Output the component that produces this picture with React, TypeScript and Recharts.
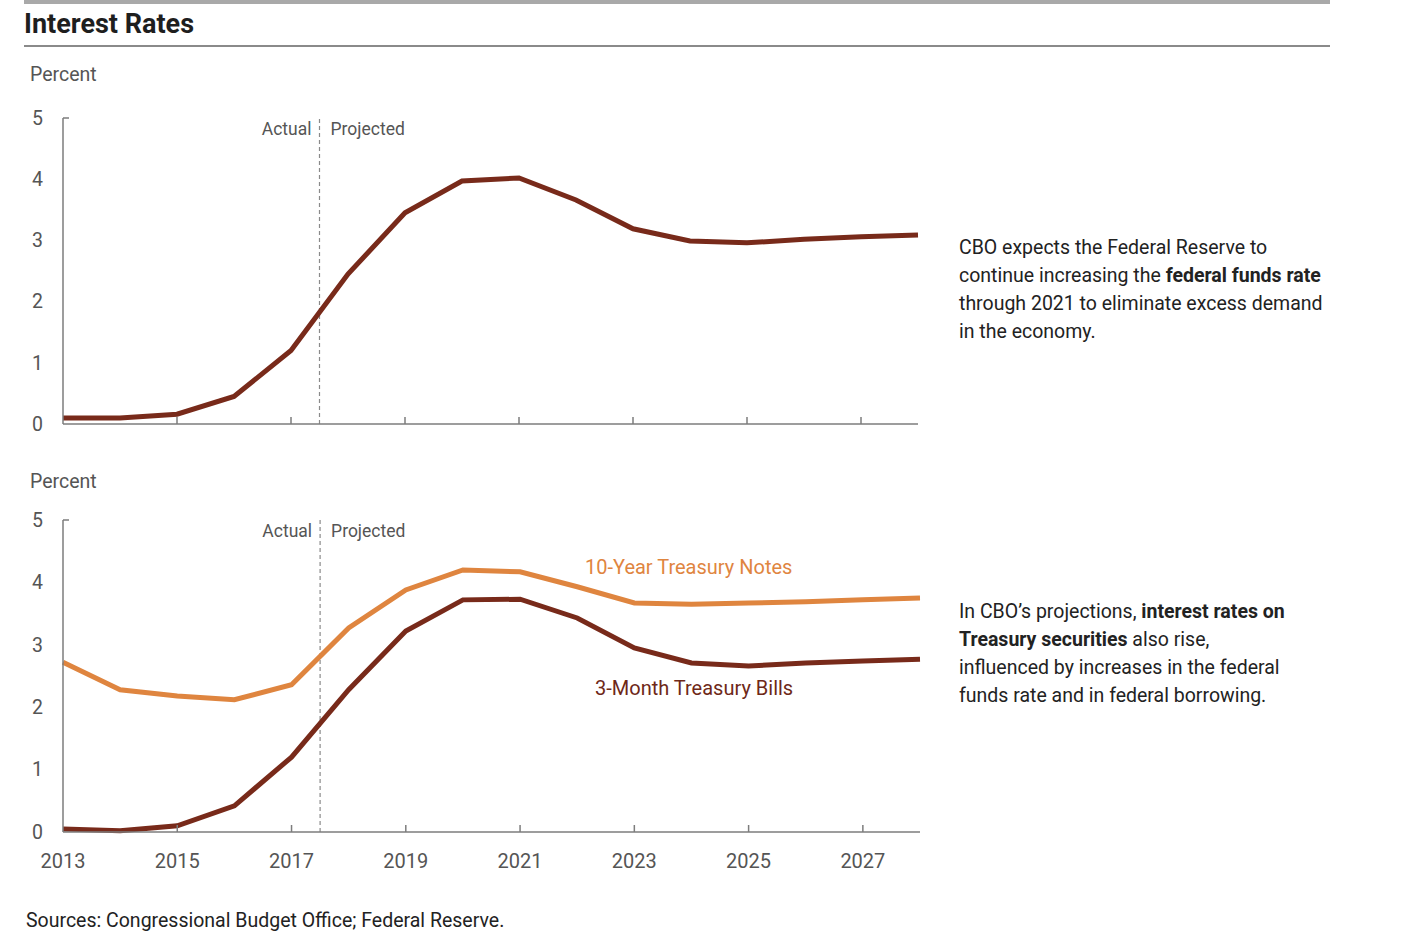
import { LineChart, Line, XAxis, YAxis, ReferenceLine } from 'recharts';

const years = [2013, 2014, 2015, 2016, 2017, 2018, 2019, 2020, 2021, 2022, 2023, 2024, 2025, 2026, 2027, 2028];
const fedFunds = [0.1, 0.1, 0.16, 0.45, 1.2, 2.45, 3.45, 3.97, 4.02, 3.66, 3.19, 2.99, 2.96, 3.02, 3.06, 3.09];
const tenYear = [2.72, 2.28, 2.18, 2.12, 2.36, 3.27, 3.88, 4.2, 4.17, 3.93, 3.67, 3.65, 3.67, 3.69, 3.72, 3.75];
const threeMonth = [0.05, 0.02, 0.1, 0.42, 1.2, 2.28, 3.22, 3.72, 3.73, 3.43, 2.95, 2.71, 2.66, 2.71, 2.74, 2.77];
const xTicks = [2013, 2015, 2017, 2019, 2021, 2023, 2025, 2027];
const yTicks = [0, 1, 2, 3, 4, 5];

const topData = years.map((year, i) => ({ year, rate: fedFunds[i] }));
const bottomData = years.map((year, i) => ({ year, notes: tenYear[i], bills: threeMonth[i] }));

const FONT = 'Roboto, "Noto Sans", sans-serif';
const DARK = '#782a1a';
const ORANGE = '#df853f';
const AXIS = '#7d7d7d';
const TEXT = '#555';

const YTick = ({ x, y, payload }: any) => (
  <g>
    {payload.value === 5 && <line x1={x} y1={y} x2={x + 6} y2={y} stroke={AXIS} strokeWidth={1.5} />}
    <text x={x - 20} y={y} dy="0.35em" textAnchor="end" fill={TEXT} fontSize={19.5} fontFamily={FONT}>
      {payload.value}
    </text>
  </g>
);

const makeXTick = (showLabel: boolean) => ({ x, y, payload }: any) => (
  <g>
    {payload.value !== 2013 && <line x1={x} y1={y} x2={x} y2={y - 7} stroke={AXIS} strokeWidth={1.5} />}
    {showLabel && (
      <text x={x} y={y + 36} textAnchor="middle" fill={TEXT} fontSize={20} fontFamily={FONT}>
        {payload.value}
      </text>
    )}
  </g>
);

const DividerLabel = ({ viewBox }: any) => {
  const x = viewBox?.x ?? 0;
  const y = viewBox?.y ?? 0;
  return (
    <g fontFamily={FONT} fontSize={17.5} fill={TEXT}>
      <text x={x - 8} y={y + 17} textAnchor="end">Actual</text>
      <text x={x + 11} y={y + 17} textAnchor="start">Projected</text>
    </g>
  );
};

const axes = (showLabels: boolean) => [
  <XAxis
    key="x"
    dataKey="year"
    type="number"
    domain={[2013, 2028]}
    ticks={xTicks}
    tickLine={false}
    tickSize={0}
    tickMargin={0}
    axisLine={{ stroke: AXIS, strokeWidth: 1.5 }}
    tick={makeXTick(showLabels)}
    height={showLabels ? 40 : 10}
    interval={0}
  />,
  <YAxis
    key="y"
    type="number"
    domain={[0, 5]}
    ticks={yTicks}
    width={63}
    tickLine={false}
    tickSize={0}
    tickMargin={0}
    axisLine={{ stroke: AXIS, strokeWidth: 1.5 }}
    tick={<YTick />}
    interval={0}
  />,
];

const para: React.CSSProperties = {
  position: 'absolute',
  left: 959,
  width: 420,
  fontFamily: FONT,
  fontSize: 19.5,
  lineHeight: '28px',
  color: '#222',
  whiteSpace: 'nowrap',
};

export default function App() {
  return (
    <div style={{ position: 'absolute', left: 0, top: 0, width: 1417, height: 942, background: '#fff', fontFamily: FONT }}>
      <div style={{ position: 'absolute', left: 24, top: 0, width: 1306, height: 3.5, background: '#a9a9a9' }} />
      <div style={{ position: 'absolute', left: 24, top: 8, fontSize: 27, fontWeight: 700, color: '#1e1e1e' }}>Interest Rates</div>
      <div style={{ position: 'absolute', left: 24, top: 45, width: 1306, height: 1.5, background: '#8a8a8a' }} />

      <div style={{ position: 'absolute', left: 30, top: 63, fontSize: 19.5, color: TEXT }}>Percent</div>
      <div style={{ position: 'absolute', left: 0, top: 0 }}>
        <LineChart width={940} height={440} data={topData} margin={{ top: 118, right: 22, bottom: 6, left: 0 }}>
          {axes(false)}
          <ReferenceLine x={2017.5} stroke="#8a8a8a" strokeDasharray="4 3" strokeWidth={1.2} label={DividerLabel} />
          <Line dataKey="rate" stroke={DARK} strokeWidth={5} dot={false} isAnimationActive={false} />
        </LineChart>
      </div>
      <div style={{ ...para, top: 234 }}>
        CBO expects the Federal Reserve to
        <br />
        continue increasing the <b>federal funds rate</b>
        <br />
        through 2021 to eliminate excess demand
        <br />
        in the economy.
      </div>

      <div style={{ position: 'absolute', left: 30, top: 470, fontSize: 19.5, color: TEXT }}>Percent</div>
      <div style={{ position: 'absolute', left: 0, top: 480 }}>
        <LineChart width={940} height={420} data={bottomData} margin={{ top: 40, right: 20, bottom: 28, left: 0 }}>
          {axes(true)}
          <ReferenceLine x={2017.5} stroke="#8a8a8a" strokeDasharray="4 3" strokeWidth={1.2} label={DividerLabel} />
          <Line dataKey="notes" stroke={ORANGE} strokeWidth={5} dot={false} isAnimationActive={false} />
          <Line dataKey="bills" stroke={DARK} strokeWidth={5} dot={false} isAnimationActive={false} />
        </LineChart>
      </div>
      <div style={{ position: 'absolute', left: 585, top: 555, fontSize: 20, color: ORANGE }}>10-Year Treasury Notes</div>
      <div style={{ position: 'absolute', left: 595, top: 676, fontSize: 20, color: '#6e2818' }}>3-Month Treasury Bills</div>
      <div style={{ ...para, top: 598 }}>
        In CBO’s projections, <b>interest rates on</b>
        <br />
        <b>Treasury securities</b> also rise,
        <br />
        influenced by increases in the federal
        <br />
        funds rate and in federal borrowing.
      </div>

      <div style={{ position: 'absolute', left: 26, top: 909, fontSize: 19.5, color: '#222' }}>
        Sources: Congressional Budget Office; Federal Reserve.
      </div>
    </div>
  );
}
